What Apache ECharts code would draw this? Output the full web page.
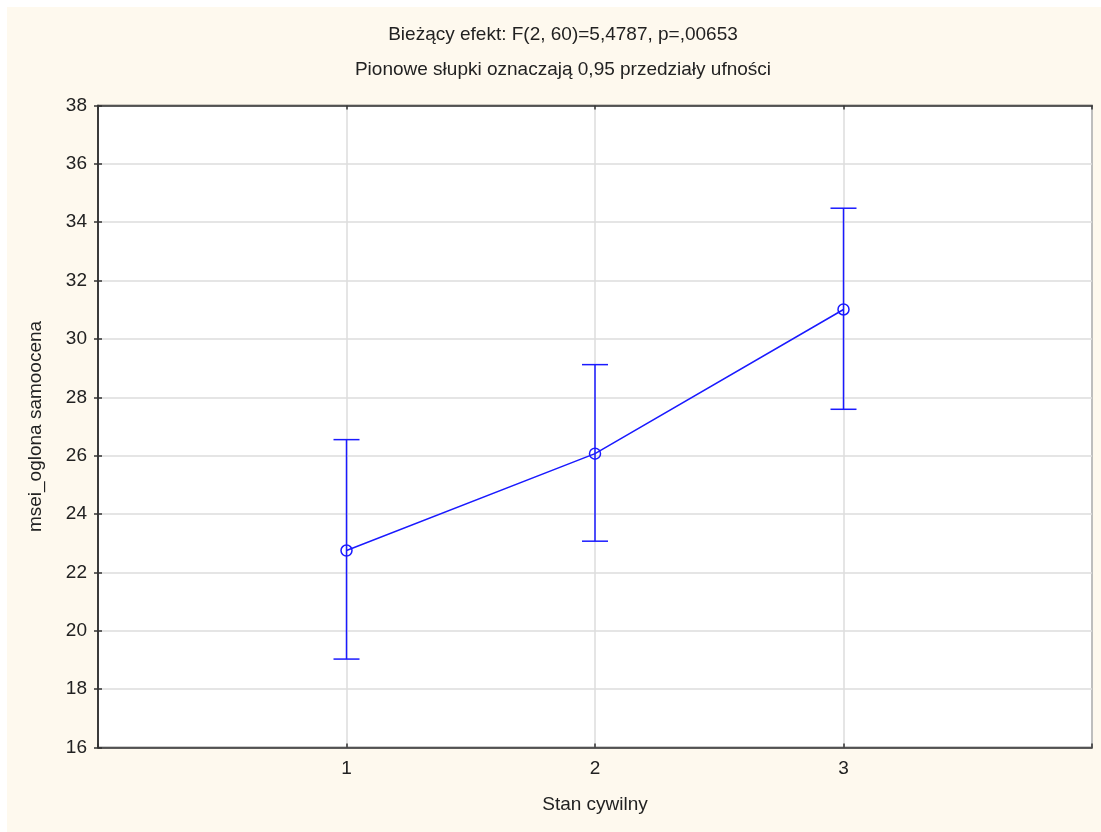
<!DOCTYPE html>
<html>
<head>
<meta charset="utf-8">
<script src="https://cdn.jsdelivr.net/npm/echarts@6/dist/echarts.min.js"></script>
<style>
html,body{margin:0;padding:0;background:#ffffff;width:1101px;height:832px;overflow:hidden;}
#chart{position:absolute;left:7px;top:7px;width:1094px;height:825px;background:#FEF9EE;}
</style>
</head>
<body>
<div id="chart"></div>
<script>
const categories = ['1', '2', '3'];
const means = [22.75, 26.07, 31.01];
const lower = [19.03, 23.07, 27.59];
const upper = [26.55, 29.12, 34.48];
const yTicks = [16, 18, 20, 22, 24, 26, 28, 30, 32, 34, 36, 38];
const titleLine1 = 'Bieżący efekt: F(2, 60)=5,4787, p=,00653';
const titleLine2 = 'Pionowe słupki oznaczają 0,95 przedziały ufności';
const xName = 'Stan cywilny';
const yName = 'msei_oglona samoocena';

const FONT = '"Liberation Sans", Arial, sans-serif';
const BLUE = '#1a1aff';

const pointData = categories.map((c, i) => [i + 1, means[i]]);
const errData = categories.map((c, i) => [i + 1, lower[i], upper[i]]);

const chart = echarts.init(document.getElementById('chart'), null, {renderer: 'canvas'});
const axisLine = {show: true, lineStyle: {color: '#333333', width: 1.5}};
chart.setOption({
  backgroundColor: '#FEF9EE',
  animation: false,
  graphic: [
    {type: 'text', x: 556, y: 28, style: {text: titleLine1, fill: '#222', font: '19px ' + FONT, textAlign: 'center', textVerticalAlign: 'middle'}},
    {type: 'text', x: 556, y: 63, style: {text: titleLine2, fill: '#222', font: '19px ' + FONT, textAlign: 'center', textVerticalAlign: 'middle'}}
  ],
  grid: {left: 91, right: 9, top: 98.5, bottom: 84.5, show: true, backgroundColor: '#ffffff', borderColor: '#333333', borderWidth: 1.5},
  xAxis: [
    {
      type: 'value', min: 0, max: 4, interval: 1, position: 'bottom',
      name: xName, nameLocation: 'middle', nameGap: 48,
      nameTextStyle: {color: '#222', fontSize: 19, fontFamily: FONT},
      axisLine: axisLine,
      axisTick: {show: true, inside: true, length: 4, lineStyle: {color: '#333', width: 1.5}},
      axisLabel: {color: '#222', fontSize: 19, fontFamily: FONT, margin: 12,
        formatter: v => (v >= 1 && v <= categories.length) ? categories[v - 1] : ''},
      splitLine: {show: true, lineStyle: {color: '#dcdcdc', width: 1.5}}
    },
    {
      type: 'value', min: 0, max: 4, interval: 1, position: 'top',
      axisLine: axisLine,
      axisTick: {show: true, inside: true, length: 4, lineStyle: {color: '#333', width: 1.5}},
      axisLabel: {show: false}, splitLine: {show: false}
    }
  ],
  yAxis: [
    {
      type: 'value', min: yTicks[0], max: yTicks[yTicks.length - 1], interval: 2, position: 'left',
      name: yName, nameLocation: 'middle', nameGap: 53, nameRotate: 90,
      nameTextStyle: {color: '#222', fontSize: 19, fontFamily: FONT},
      axisLine: axisLine,
      axisTick: {show: true, inside: true, length: 4, lineStyle: {color: '#333', width: 1.5}},
      axisLabel: {color: '#222', fontSize: 19, fontFamily: FONT, margin: 11},
      splitLine: {show: true, lineStyle: {color: '#dcdcdc', width: 1.5}}
    },
    {
      type: 'value', min: yTicks[0], max: yTicks[yTicks.length - 1], interval: 2, position: 'right',
      axisLine: axisLine,
      axisTick: {show: true, inside: true, length: 4, lineStyle: {color: '#333', width: 1.5}},
      axisLabel: {show: false}, splitLine: {show: false}
    }
  ],
  series: [
    {
      type: 'custom', xAxisIndex: 0, yAxisIndex: 0, z: 3,
      data: errData,
      renderItem: function (params, api) {
        const x = api.value(0);
        const lo = api.coord([x, api.value(1)]);
        const hi = api.coord([x, api.value(2)]);
        const hw = 13;
        const st = {stroke: BLUE, lineWidth: 1.5};
        return {type: 'group', children: [
          {type: 'line', shape: {x1: lo[0], y1: lo[1], x2: hi[0], y2: hi[1]}, style: st},
          {type: 'line', shape: {x1: lo[0] - hw, y1: lo[1], x2: lo[0] + hw, y2: lo[1]}, style: st},
          {type: 'line', shape: {x1: hi[0] - hw, y1: hi[1], x2: hi[0] + hw, y2: hi[1]}, style: st}
        ]};
      }
    },
    {
      type: 'line', xAxisIndex: 0, yAxisIndex: 0, z: 4,
      data: pointData,
      symbol: 'circle', symbolSize: 11, showSymbol: true,
      lineStyle: {color: BLUE, width: 1.5},
      itemStyle: {color: 'rgba(0,0,0,0)', borderColor: BLUE, borderWidth: 1.5}
    }
  ]
});
</script>
</body>
</html>
